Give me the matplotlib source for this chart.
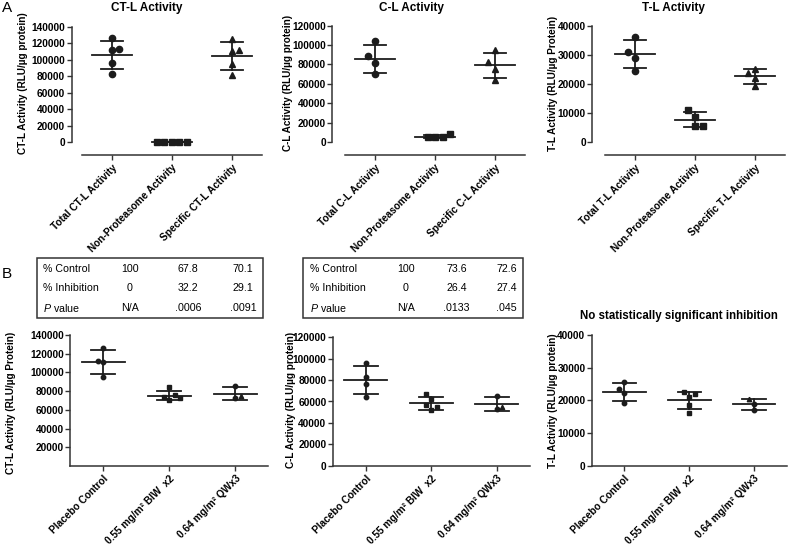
import numpy as np
import matplotlib
matplotlib.use('Agg')
import matplotlib.pyplot as plt
from matplotlib.patches import Rectangle

plt.rcParams['font.family'] = ['Liberation Sans', 'DejaVu Sans']
plt.rcParams['mathtext.fontset'] = 'custom'
plt.rcParams['mathtext.it'] = 'Liberation Sans:italic'
plt.rcParams['mathtext.rm'] = 'Liberation Sans'

W, H = 789, 545

# ---- panel A data (RLU/ug protein) ----
ct_total = [125900, 111700, 95600, 82200, 113000]
ct_nonprot = [0, 0, 0, 0, 0]
ct_specific = [125100, 110500, 94300, 81400, 111700]
cl_total = [103800, 81400, 69800, 88700]
cl_nonprot = [4800, 4800, 4800, 7900]
cl_specific = [94800, 74900, 63900, 82800]
tl_total = [36200, 29000, 24500, 31000]
tl_nonprot = [8600, 5400, 10800, 5500]
tl_specific = [25200, 22100, 19300, 23600]

# ---- panel B data ----
ct_placebo = [125700, 111100, 94600, 111800]
ct_biw = [83900, 70400, 76100, 73600, 72500]
ct_qw = [85000, 72500, 74300]
cl_placebo = [95600, 82900, 76000, 64500]
cl_biw = [62600, 52000, 66700, 54500, 56700]
cl_qw = [64800, 53000, 54500]
tl_placebo = [25500, 22400, 19100, 23400]
tl_biw = [20900, 18500, 16200, 22500, 22000]
tl_qw = [18900, 17100, 20300]

a_titles = ['CT-L Activity', 'C-L Activity', 'T-L Activity']
a_ylabels = ['CT-L Activity (RLU/µg protein)', 'C-L Activity (RLU/µg protein)',
             'T-L Activity (RLU/µg Protein)']
a_cats = [['Total CT-L Activity', 'Non-Proteasome Activity', 'Specific CT-L Activity'],
          ['Total C-L Activity', 'Non-Proteasome Activity', 'Specific C-L Activity'],
          ['Total T-L Activity', 'Non-Proteasome Activity', 'Specific T-L Activity']]
a_tops = [140000, 120000, 40000]
a_steps = [20000, 20000, 10000]

b_ylabels = ['CT-L Activity (RLU/µg Protein)', 'C-L Activity (RLU/µg protein)',
             'T-L Activity (RLU/µg protein)']
b_cats = ['Placebo Control', '0.55 mg/m² BIW  x2', '0.64 mg/m² QWx3']
b_tops = [140000, 120000, 40000]
b_steps = [20000, 20000, 10000]

table_rows = ['% Control', '% Inhibition', '$P$ value']
ct_table = [['100', '67.8', '70.1'], ['0', '32.2', '29.1'], ['N/A', '.0006', '.0091']]
cl_table = [['100', '73.6', '72.6'], ['0', '26.4', '27.4'], ['N/A', '.0133', '.045']]
tl_note = 'No statistically significant inhibition'

INK = '#1c1c1c'
AXC = '#333333'


def px_axes(fig, l, t, r, b):
    return fig.add_axes([l / W, 1 - b / H, (r - l) / W, (b - t) / H])


def swarm(ax, vals, step, thr, side):
    # simple dot-plot spreading, done in pixel units
    pos = ax.get_position()
    x0, x1 = ax.get_xlim()
    y0, y1 = ax.get_ylim()
    sx = pos.width * W / (x1 - x0)
    sy = pos.height * H / (y1 - y0)
    placed, offs = [], []
    s = side
    for v in vals:
        y = v * sy
        cands = [0] + [k * s * m for k in range(1, 6) for m in (1, -1)]
        for c in cands:
            x = c * step
            if all(not (abs(x - px) < step * 0.99 and abs(y - py) < thr) for px, py in placed):
                break
        if x != 0:
            s = -s
        placed.append((x, y))
        offs.append(x / sx)
    return offs


def draw_group(ax, xpos, vals, markers, ms, step, thr, side):
    offs = swarm(ax, vals, step, thr, side)
    for v, o, m in zip(vals, offs, markers):
        ax.plot(xpos + o, v, marker=m, ms=ms, color=INK, ls='none', clip_on=False, zorder=3)
    mean = np.mean(vals)
    sd = np.std(vals, ddof=1)
    ax.plot([xpos - 0.33, xpos + 0.33], [mean, mean], color=INK, lw=1.3, zorder=4)
    ax.plot([xpos - 0.18, xpos + 0.18], [mean + sd] * 2, color=INK, lw=1.3, zorder=4)
    ax.plot([xpos - 0.18, xpos + 0.18], [mean - sd] * 2, color=INK, lw=1.3, zorder=4)
    ax.plot([xpos, xpos], [mean - sd, mean + sd], color=INK, lw=1.3, zorder=4)


def style_axes(ax, cats, yticks):
    ax.set_xlim(-0.5, 2.5)
    ax.set_xticks(range(3))
    ax.set_xticklabels(cats, rotation=45, ha='right', va='top', rotation_mode='anchor',
                       fontsize=7.3, fontweight='bold')
    ax.set_yticks(yticks)
    ax.set_yticklabels([str(t) for t in yticks], fontsize=7.3, fontweight='bold')
    ax.tick_params(axis='both', length=3.5, width=1, color=AXC, pad=1.2)
    ax.tick_params(axis='x', pad=2)
    for side in ['top', 'right']:
        ax.spines[side].set_visible(False)
    for side in ['left', 'bottom']:
        ax.spines[side].set_color(AXC)
        ax.spines[side].set_linewidth(1.1)
    ax.patch.set_alpha(0)


fig = plt.figure(figsize=(W / 100, H / 100), dpi=100)

# ---------- row A ----------
a_boxes = [(81.7, 26.7, 261.7, 155, 142), (345, 25.7, 525, 155, 142), (605, 25.7, 785, 155, 141.7)]
a_spine_gap = [10, 12.7, 12.7]
a_groups = [(ct_total, ct_nonprot, ct_specific),
            (cl_total, cl_nonprot, cl_specific),
            (tl_total, tl_nonprot, tl_specific)]
a_sides = [(1, 1, 1), (-1, 1, -1), (-1, -1, -1)]
a_title_x = [147, 411, 673]
a_ylab_x = [23, 288, 553]
for i in range(3):
    l, t, r, b, yz = a_boxes[i]
    ax = px_axes(fig, l, t, r, b)
    top = a_tops[i]
    # spine position first: moving a spine resets its axis tick labels
    ax.spines['left'].set_position(('outward', a_spine_gap[i] * 0.72))
    ax.set_ylim(-(b - yz) / (yz - t) * top, top)
    style_axes(ax, a_cats[i], np.arange(0, top + 1, a_steps[i]))
    ax.spines['left'].set_bounds(0, top)
    for j, (vals, mk) in enumerate(zip(a_groups[i], ['o', 's', '^'])):
        draw_group(ax, j, vals, [mk] * len(vals), 4.5, 7.5, 7.9, a_sides[i][j])
    fig.text(a_title_x[i] / W, 1 - 8 / H, a_titles[i], ha='center', va='center',
             fontsize=8.5, fontweight='bold')
    fig.text(a_ylab_x[i] / W, 1 - 83 / H, a_ylabels[i], rotation=90, ha='center',
             va='center', fontsize=7.2, fontweight='bold')

# ---------- row B ----------
b_boxes = [(70.3, 335, 268.3, 466), (333, 337.3, 529.5, 465.7), (592, 335, 786.5, 465.7)]
b_groups = [(ct_placebo, ct_biw, ct_qw),
            (cl_placebo, cl_biw, cl_qw),
            (tl_placebo, tl_biw, tl_qw)]
b_sides = [(-1, 1, 1), (-1, -1, 1), (-1, -1, -1)]
b_ylab_x = [11.5, 290.5, 553.5]
b_ylab_y = [403, 400, 401]
b_markers = [['o'] * 5, ['s'] * 5, ['o', 'o', '^']]
for i in range(3):
    l, t, r, b = b_boxes[i]
    ax = px_axes(fig, l, t, r, b)
    top = b_tops[i]
    ax.set_ylim(0, top)
    start = b_steps[i] if i == 0 else 0
    style_axes(ax, b_cats, np.arange(start, top + 1, b_steps[i]))
    for j, vals in enumerate(b_groups[i]):
        draw_group(ax, j, vals, b_markers[j], 3.2, 5.3, 5.6, b_sides[i][j])
    fig.text(b_ylab_x[i] / W, 1 - b_ylab_y[i] / H, b_ylabels[i], rotation=90, ha='center',
             va='center', fontsize=7.2, fontweight='bold')

# ---------- tables above row B ----------
tab_boxes = [(37, 258, 263, 318), (303, 258, 523, 318)]
tab_label_x = [43, 310]
tab_col_x = [(130, 188, 243), (405.7, 456.7, 506.7)]
row_y = [269, 288.3, 307.7]
for k, tab in enumerate([ct_table, cl_table]):
    l, t, r, b = tab_boxes[k]
    fig.add_artist(Rectangle((l / W, 1 - b / H), (r - l) / W, (b - t) / H,
                             transform=fig.transFigure, fill=False, lw=1.1, ec=AXC))
    for ri, row in enumerate(tab):
        fig.text(tab_label_x[k] / W, 1 - row_y[ri] / H, table_rows[ri], ha='left',
                 va='center', fontsize=7.7)
        for ci, cell in enumerate(row):
            fig.text(tab_col_x[k][ci] / W, 1 - row_y[ri] / H, cell, ha='center',
                     va='center', fontsize=7.7)

fig.text(679 / W, 1 - 316 / H, tl_note, ha='center', va='center', fontsize=8.3,
         fontweight='bold')

fig.text(2 / W, 1 - 8.5 / H, 'A', ha='left', va='center', fontsize=11)
fig.text(2 / W, 1 - 274 / H, 'B', ha='left', va='center', fontsize=11)

fig.savefig('out.png', dpi=100)
